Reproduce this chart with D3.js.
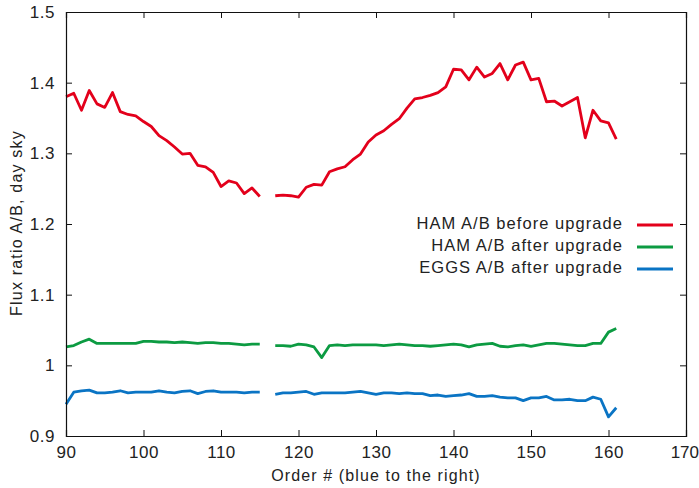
<!DOCTYPE html>
<html><head><meta charset="utf-8">
<script src="https://cdn.jsdelivr.net/npm/d3@7"></script>
<style>body{margin:0;background:#fff}svg{display:block}text{font-family:"Liberation Sans",Arial,sans-serif;fill:#222}</style>
</head><body><svg id="c" width="699" height="488"></svg>
<script>
const orders = [90,91,92,93,94,95,96,97,98,99,100,101,102,103,104,105,106,107,108,109,110,111,112,113,114,115,116,117,118,119,120,121,122,123,124,125,126,127,128,129,130,131,132,133,134,135,136,137,138,139,140,141,142,143,144,145,146,147,148,149,150,151,152,153,154,155,156,157,158,159,160,161];
const hamBefore = [1.380,1.385,1.361,1.389,1.370,1.365,1.386,1.359,1.355,1.353,1.345,1.338,1.325,1.318,1.309,1.299,1.300,1.283,1.281,1.273,1.253,1.261,1.258,1.243,1.251,1.239,null,1.240,1.241,1.240,1.238,1.252,1.256,1.255,1.274,1.278,1.281,1.291,1.299,1.316,1.326,1.332,1.341,1.349,1.364,1.377,1.379,1.382,1.386,1.394,1.419,1.418,1.404,1.422,1.408,1.413,1.427,1.404,1.425,1.429,1.404,1.406,1.373,1.374,1.367,1.373,1.379,1.322,1.361,1.346,1.343,1.320];
const hamAfter = [1.026,1.028,1.033,1.037,1.031,1.031,1.031,1.031,1.031,1.031,1.034,1.034,1.033,1.033,1.032,1.033,1.032,1.031,1.032,1.032,1.031,1.031,1.030,1.029,1.030,1.030,null,1.028,1.028,1.027,1.030,1.029,1.026,1.011,1.028,1.029,1.028,1.029,1.029,1.029,1.029,1.028,1.029,1.030,1.029,1.028,1.028,1.027,1.028,1.029,1.030,1.029,1.026,1.029,1.030,1.031,1.027,1.026,1.028,1.029,1.027,1.029,1.031,1.031,1.030,1.029,1.028,1.028,1.031,1.031,1.047,1.052];
const eggsAfter = [0.945,0.962,0.964,0.965,0.961,0.961,0.962,0.964,0.961,0.962,0.962,0.962,0.964,0.962,0.961,0.963,0.964,0.960,0.963,0.964,0.962,0.962,0.962,0.961,0.962,0.962,null,0.959,0.961,0.961,0.962,0.963,0.959,0.961,0.961,0.961,0.961,0.962,0.963,0.961,0.959,0.961,0.961,0.960,0.961,0.960,0.960,0.957,0.958,0.956,0.957,0.958,0.960,0.956,0.956,0.957,0.955,0.954,0.954,0.950,0.954,0.954,0.956,0.951,0.951,0.952,0.950,0.950,0.955,0.952,0.927,0.940];
const seriesNames = ["HAM A/B before upgrade","HAM A/B after upgrade","EGGS A/B after upgrade"];
const seriesColors = ["#e3001b","#0c9b42","#0a74c4"];
const xTicks = [90,100,110,120,130,140,150,160,170];
const yTicks = [0.9,1.0,1.1,1.2,1.3,1.4,1.5];
const yTickLabels = ["0.9","1","1.1","1.2","1.3","1.4","1.5"];

const svg = d3.select("#c");
const L=66,R=686,T=12,B=436;
const x = d3.scaleLinear().domain([90,170]).range([L,R]);
const y = d3.scaleLinear().domain([0.9,1.5]).range([B,T]);

const allSeries=[hamBefore,hamAfter,eggsAfter];
const line = d3.line().defined(d=>d[1]!=null).x(d=>x(d[0])).y(d=>y(d[1]));
allSeries.forEach((s,i)=>{
  svg.append("path").datum(orders.map((o,j)=>[o,s[j]]))
    .attr("d",line).attr("fill","none").attr("stroke",seriesColors[i])
    .attr("stroke-width",2.8).attr("stroke-linejoin","round");
});

const bx = svg.append("g").attr("transform",`translate(0,${B})`)
  .call(d3.axisBottom(x).tickValues(xTicks).tickSize(-6).tickPadding(10).tickFormat(d3.format("d")));
const tx = svg.append("g").attr("transform",`translate(0,${T})`)
  .call(d3.axisTop(x).tickValues(xTicks).tickSize(-6).tickFormat(""));
const ly = svg.append("g").attr("transform",`translate(${L},0)`)
  .call(d3.axisLeft(y).tickValues(yTicks).tickSize(-6).tickPadding(11).tickFormat((d,i)=>yTickLabels[i]));
const ry = svg.append("g").attr("transform",`translate(${R},0)`)
  .call(d3.axisRight(y).tickValues(yTicks).tickSize(-6).tickFormat(""));
[bx,tx,ly,ry].forEach(g=>{
  g.select(".domain").attr("stroke","#111").attr("stroke-width",1.2);
  g.selectAll(".tick line").attr("stroke","#111");
  g.selectAll("text").style("font-size","17px").style("letter-spacing","0.5px").attr("fill","#222");
});
bx.selectAll(".tick text").filter(d=>d===170).attr("text-anchor","end").attr("dx","12.5px").style("letter-spacing","0px");

svg.append("text").attr("x",(L+R)/2).attr("y",480.5).attr("text-anchor","middle")
  .style("font-size","16px").style("letter-spacing","1.1px").text("Order # (blue to the right)");
svg.append("text").attr("transform",`translate(22,${(T+B)/2 - 1}) rotate(-90)`)
  .attr("text-anchor","middle").style("font-size","16px").style("letter-spacing","1.2px").text("Flux ratio A/B, day sky");

seriesNames.forEach((n,i)=>{
  const yy = 225 + i*22;
  svg.append("text").attr("x",623).attr("y",yy-1.5).attr("dy","0.35em").attr("text-anchor","end")
    .style("font-size","16.5px").style("letter-spacing","1.05px").text(n);
  svg.append("line").attr("x1",637).attr("x2",673).attr("y1",yy).attr("y2",yy)
    .attr("stroke",seriesColors[i]).attr("stroke-width",2.8);
});
</script></body></html>
